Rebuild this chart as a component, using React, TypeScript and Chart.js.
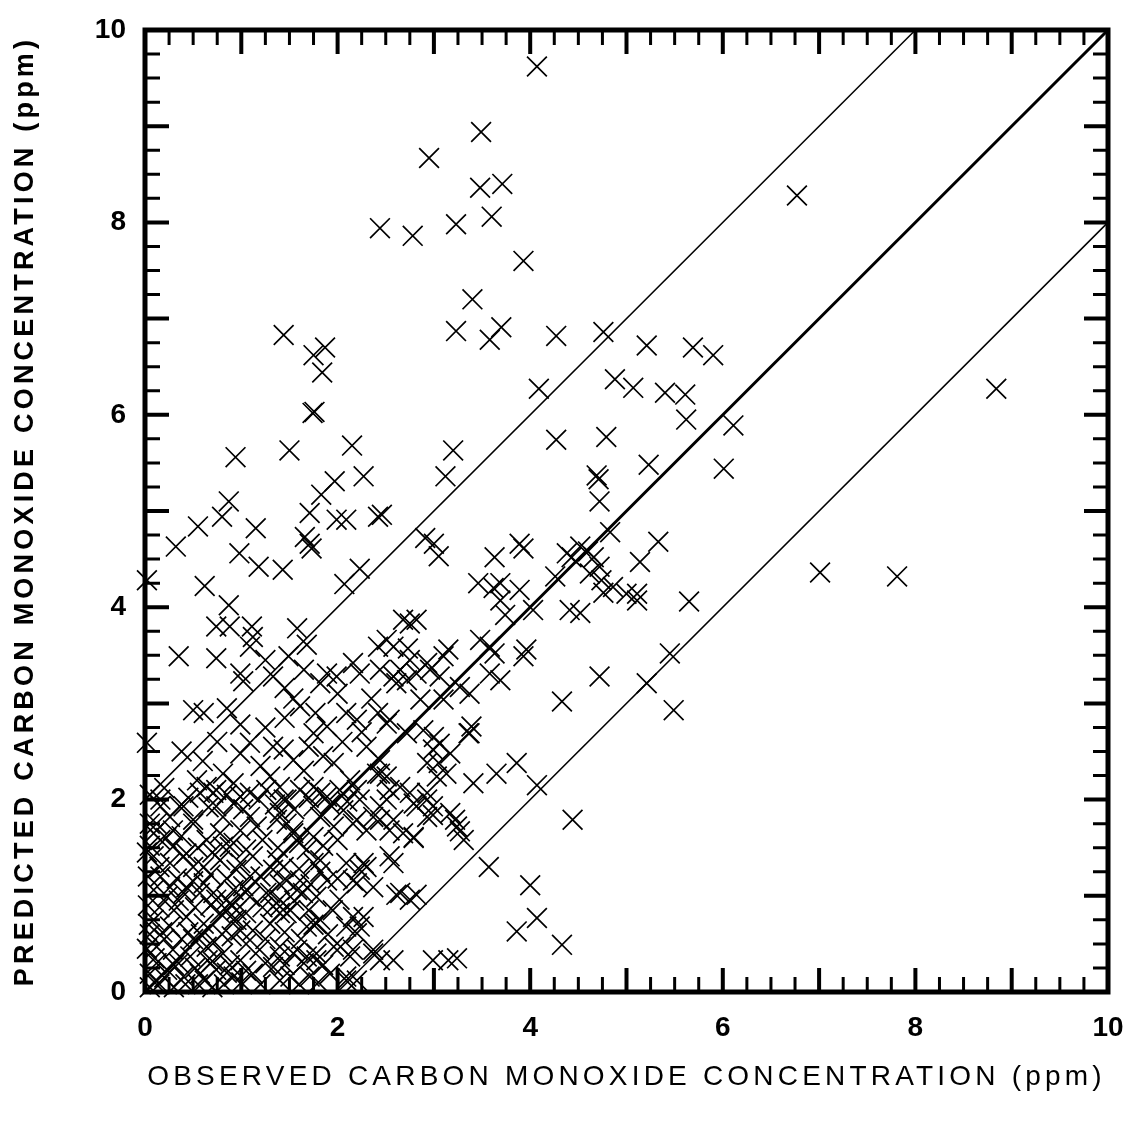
import { useEffect, useRef } from 'react';
import { Chart, registerables } from 'chart.js';

Chart.register(...registerables);

// ---------- axis setup ----------
const AXIS_MIN = 0;
const AXIS_MAX = 10;
const LABEL_STEP = 2;
const MINOR_STEP = 0.25;
const X_TITLE = 'OBSERVED CARBON MONOXIDE CONCENTRATION (ppm)';
const Y_TITLE = 'PREDICTED CARBON MONOXIDE CONCENTRATION (ppm)';

// ---------- reference lines ----------
const perfectLine: [number, number][] = [[0, 0], [10, 10]];
const upperBandLine: [number, number][] = [[0, 2], [8, 10]];
const lowerBandLine: [number, number][] = [[2, 0], [10, 8]];

// ---------- observed / predicted pairs ----------
const highPoints: [number, number][] = [
  [4.07, 9.62], [3.49, 8.94], [2.95, 8.67], [3.48, 8.36], [3.71, 8.40], [3.60, 8.06],
  [2.44, 7.94], [2.78, 7.86], [3.23, 7.98], [3.93, 7.60], [3.40, 7.20], [3.23, 6.87],
  [3.58, 6.78], [3.70, 6.91], [1.44, 6.83], [1.75, 6.62], [1.87, 6.70], [1.84, 6.44],
  [1.74, 6.02], [1.76, 6.03], [0.94, 5.56], [1.50, 5.63], [2.15, 5.68], [3.20, 5.63],
  [1.97, 5.31], [1.83, 5.17], [2.27, 5.36], [3.12, 5.36], [0.87, 5.10], [0.80, 4.94],
  [0.55, 4.84], [0.32, 4.63], [1.15, 4.82], [0.98, 4.56], [1.18, 4.42], [1.43, 4.39],
  [1.71, 4.98], [1.66, 4.73], [1.71, 4.66], [1.73, 4.61], [1.99, 4.91], [2.09, 4.91],
  [2.42, 4.94], [2.46, 4.96], [2.23, 4.40], [2.07, 4.24], [0.62, 4.22], [0.02, 4.28],
  [2.91, 4.72], [3.00, 4.66], [3.05, 4.53],
];

const rightPoints: [number, number][] = [
  [4.27, 6.82], [4.76, 6.86], [5.21, 6.72], [5.69, 6.70], [5.90, 6.62], [4.09, 6.27],
  [4.88, 6.37], [5.07, 6.28], [5.40, 6.23], [5.61, 6.21], [5.62, 5.95], [6.11, 5.89],
  [4.27, 5.74], [4.79, 5.77], [5.23, 5.48], [6.01, 5.44], [4.69, 5.37], [4.71, 5.33],
  [4.72, 5.10], [6.77, 8.28], [8.84, 6.27], [7.01, 4.36], [7.81, 4.32], [5.65, 4.06],
  [5.45, 3.52], [5.21, 3.21], [5.49, 2.93], [4.72, 3.28], [4.33, 3.02], [4.44, 1.79],
  [3.57, 1.30], [4.00, 1.11], [4.07, 0.77], [3.86, 0.63], [4.33, 0.49],
];

const bandPoints: [number, number][] = [
  [3.63, 4.52], [3.89, 4.66], [3.93, 4.61], [4.83, 4.78], [5.33, 4.68], [4.52, 4.63],
  [4.60, 4.58], [4.43, 4.52], [4.72, 4.42], [5.14, 4.47], [4.38, 4.56], [4.66, 4.52],
  [3.46, 4.25], [3.62, 4.20], [3.69, 4.25], [3.89, 4.18], [3.69, 4.07], [4.26, 4.32],
  [4.74, 4.28], [4.86, 4.21], [5.11, 4.14], [5.11, 4.07], [4.76, 4.15], [4.62, 4.35],
  [5.00, 4.14], [4.41, 3.97], [4.52, 3.94], [3.74, 3.92], [4.03, 3.97], [3.58, 3.59],
  [3.93, 3.49], [3.96, 3.56], [3.48, 3.66], [3.63, 3.52], [2.75, 3.83], [2.82, 3.87],
  [2.68, 3.87], [3.15, 3.56], [3.69, 3.24], [3.58, 3.31], [3.37, 3.10], [3.27, 3.17],
  [2.93, 3.42], [3.10, 3.49], [2.51, 3.66], [2.58, 3.59], [2.75, 3.45], [2.65, 3.35],
  [2.82, 3.31], [2.96, 3.35], [3.06, 3.28], [2.86, 3.04], [3.10, 3.04], [3.39, 2.76],
  [3.36, 2.69], [3.65, 2.27], [3.86, 2.38], [4.07, 2.15], [3.00, 2.65], [3.06, 2.58],
  [3.17, 2.48], [3.05, 2.38], [3.13, 2.27], [3.41, 2.17], [2.54, 2.83], [2.72, 2.69],
  [2.89, 2.72], [2.99, 2.52], [2.93, 2.38], [3.03, 2.24], [2.44, 2.27], [2.54, 2.10],
  [3.37, 2.69], [3.22, 1.79], [3.27, 1.67], [3.31, 1.58], [3.17, 1.86], [2.99, 1.93],
  [2.79, 1.96], [2.99, 1.84], [2.58, 1.79], [2.54, 1.68], [2.79, 1.60], [2.58, 1.34],
  [2.61, 1.01], [2.82, 1.01], [2.93, 2.07], [2.51, 2.00], [3.24, 1.72], [2.79, 1.61],
];

const clusterPoints: [number, number][] = [
  [0.74, 3.80], [0.88, 3.80], [1.11, 3.80], [1.12, 3.69], [1.09, 3.59], [0.35, 3.49],
  [0.74, 3.47], [1.58, 3.78], [1.68, 3.61], [1.49, 3.49], [2.42, 3.59], [2.73, 3.57],
  [0.99, 3.31], [1.02, 3.23], [1.89, 3.31], [1.99, 3.28], [1.82, 3.21], [2.16, 3.42],
  [2.23, 3.31], [2.44, 3.35], [2.58, 3.28], [2.61, 3.21], [2.72, 3.24], [1.33, 3.28],
  [1.45, 3.16], [0.87, 4.02], [0.50, 2.93], [0.61, 2.90], [0.38, 2.50], [0.99, 2.78],
  [1.09, 2.59], [0.99, 2.48], [1.54, 3.05], [1.61, 2.97], [1.77, 2.90], [1.89, 2.76],
  [1.75, 2.69], [2.09, 2.90], [2.20, 2.83], [2.42, 2.90], [2.51, 2.79], [1.33, 2.55],
  [1.44, 2.52], [1.54, 2.41], [1.85, 2.45], [1.96, 2.38], [2.30, 2.55], [2.44, 2.41],
  [2.51, 2.24], [0.02, 2.59], [0.54, 2.20], [0.64, 2.13], [0.71, 2.07], [0.81, 2.27],
  [0.92, 2.17], [0.99, 2.03], [1.30, 2.24], [1.40, 2.13], [1.47, 2.00], [1.75, 2.13],
  [1.89, 2.03], [2.13, 2.20], [2.20, 2.10], [2.41, 2.27], [2.65, 2.13], [2.75, 2.07],
  [2.93, 2.00], [0.16, 1.93], [0.26, 1.82], [0.40, 1.93], [0.50, 1.79], [0.74, 1.93],
  [0.81, 1.82], [0.78, 1.65], [0.88, 1.51], [1.09, 1.82], [1.16, 1.72], [1.40, 1.86],
  [1.47, 1.75], [1.54, 1.65], [1.75, 1.93], [1.82, 1.82], [2.06, 1.89], [2.20, 1.79],
  [2.30, 1.68], [2.44, 1.79], [2.68, 1.65], [2.82, 1.93], [2.93, 1.82], [1.68, 1.48],
  [1.82, 1.37], [2.27, 1.34], [2.54, 1.41], [1.37, 1.37], [1.44, 1.30], [0.99, 1.34],
  [1.09, 1.20], [0.09, 1.65], [0.16, 1.58], [0.29, 1.51], [0.40, 1.41], [0.50, 1.30],
  [0.16, 1.20], [0.26, 1.09], [0.40, 1.03], [0.61, 1.13], [0.71, 1.03], [0.85, 0.96],
  [0.95, 0.85], [1.30, 1.03], [1.40, 0.96], [1.51, 0.85], [1.78, 0.71], [2.16, 0.78],
  [2.23, 0.68], [2.65, 1.03], [2.75, 0.96], [2.30, 1.30], [2.16, 1.16], [1.75, 1.34],
  [1.82, 1.25], [1.61, 1.16], [1.64, 1.03], [2.27, 0.78], [1.75, 0.70], [1.33, 0.89],
  [1.40, 0.82], [0.92, 0.75], [0.99, 0.64], [2.58, 0.33], [2.99, 0.33], [3.24, 0.35],
  [2.37, 0.44], [2.44, 0.33], [2.03, 0.47], [2.13, 0.37], [1.68, 0.37], [1.78, 0.33],
  [1.40, 0.47], [1.54, 0.40], [2.09, 0.16], [2.20, 0.12], [3.15, 0.33],
  [1.20, 2.35], [1.65, 2.30], [2.05, 2.60], [2.25, 2.70], [1.70, 2.55], [1.25, 2.75],
  [1.45, 2.85], [2.35, 3.05], [2.00, 3.10], [1.65, 3.35], [1.25, 3.45], [0.60, 2.40],
  [0.75, 2.60], [0.85, 2.95],
];

const densePoints: [number, number][] = [
  [0.16, 2.00], [0.36, 1.93], [0.57, 2.07], [0.74, 2.10], [0.92, 1.96], [1.09, 2.07],
  [1.26, 2.10], [1.44, 2.00], [1.61, 2.10], [1.82, 2.07], [2.02, 2.10], [2.23, 2.00],
  [2.44, 1.93], [0.12, 1.75], [0.29, 1.68], [0.50, 1.75], [0.64, 1.58], [0.81, 1.51],
  [0.99, 1.68], [1.37, 1.79], [1.54, 1.68], [1.75, 1.61], [1.96, 1.72], [2.16, 1.75],
  [2.37, 1.82], [0.09, 1.41], [0.26, 1.34], [0.43, 1.44], [0.61, 1.30], [0.78, 1.37],
  [0.95, 1.27], [1.12, 1.41], [1.33, 1.27], [1.47, 1.16], [1.89, 1.16], [2.09, 1.34],
  [2.23, 1.27], [2.37, 1.09], [0.09, 1.06], [0.23, 0.99], [0.43, 1.09], [0.57, 1.03],
  [0.74, 0.96], [0.92, 1.06], [1.09, 0.99], [1.26, 1.03], [1.40, 0.89], [1.58, 1.06],
  [1.78, 0.99], [2.02, 0.96], [2.20, 1.13], [0.09, 0.75], [0.26, 0.68], [0.43, 0.78],
  [0.61, 0.71], [0.78, 0.82], [0.95, 0.75], [1.12, 0.64], [1.30, 0.71], [1.47, 0.82],
  [1.68, 0.68], [1.82, 0.75], [2.09, 0.68], [2.20, 0.61], [0.12, 0.47], [0.29, 0.44],
  [0.47, 0.37], [0.64, 0.47], [0.81, 0.40], [0.99, 0.33], [1.19, 0.44], [1.40, 0.37],
  [1.58, 0.44], [1.78, 0.40], [1.96, 0.47], [2.16, 0.44], [2.37, 0.40], [0.05, 0.19],
  [0.23, 0.23], [0.40, 0.16], [0.57, 0.19], [0.74, 0.23], [0.92, 0.16], [1.12, 0.19],
  [1.33, 0.26], [1.51, 0.16], [1.71, 0.16], [1.92, 0.19], [2.09, 0.12], [0.05, 0.05],
  [0.15, 0.08], [0.30, 0.05], [0.10, 0.35], [0.20, 0.55], [0.35, 0.30], [0.50, 0.55],
  [0.55, 0.08], [0.70, 0.05], [0.65, 0.33], [0.30, 0.85], [0.03, 0.90], [0.05, 0.60],
  [0.45, 0.62], [0.20, 0.15], [0.80, 0.60], [0.85, 0.20], [0.05, 2.05], [0.05, 1.75],
  [0.20, 2.12], [0.45, 2.02], [0.66, 1.92], [0.85, 2.05], [1.02, 1.90], [1.18, 2.00],
  [1.35, 1.95], [1.55, 1.90], [1.70, 2.02], [1.92, 1.95], [2.10, 1.98], [0.05, 1.52],
  [0.22, 1.60], [0.38, 1.62], [0.55, 1.50], [0.70, 1.45], [0.92, 1.55], [1.05, 1.48],
  [1.22, 1.58], [1.38, 1.50], [1.60, 1.55], [1.85, 1.52], [2.00, 1.58], [0.15, 1.30],
  [0.33, 1.18], [0.50, 1.15], [0.68, 1.22], [0.85, 1.18], [1.02, 1.10], [1.20, 1.20],
  [1.40, 1.12], [1.60, 1.28], [1.72, 1.12], [2.00, 1.18], [0.15, 0.88], [0.35, 0.95],
  [0.52, 0.88], [0.68, 0.90], [0.88, 0.92], [1.05, 0.82], [1.22, 0.88], [1.55, 0.95],
  [1.70, 0.85], [1.95, 0.85], [0.18, 0.62], [0.38, 0.55], [0.58, 0.60], [0.72, 0.52],
  [0.90, 0.58], [1.05, 0.50], [1.25, 0.55], [1.45, 0.62], [1.62, 0.55], [1.90, 0.60],
  [0.12, 0.30], [0.30, 0.28], [0.52, 0.25], [0.70, 0.32], [0.88, 0.28], [1.05, 0.22],
  [1.25, 0.30], [1.45, 0.28], [1.65, 0.30], [1.85, 0.28], [0.10, 0.10], [0.42, 0.08],
  [0.62, 0.12], [0.82, 0.08], [1.00, 0.10], [1.20, 0.08], [1.40, 0.12], [1.60, 0.08],
  [1.80, 0.10], [0.02, 1.45], [0.03, 1.20], [0.02, 0.45], [0.04, 0.70],
];

const TITLE_SPACING = '4.2px';

const toXY = (pts: [number, number][]) => pts.map(([x, y]) => ({ x, y }));

const frameAndTicks = {
  id: 'frameAndTicks',
  beforeDraw(chart: any) {
    chart.ctx.letterSpacing = TITLE_SPACING;
  },
  beforeDatasetsDraw(chart: any) {
    chart.ctx.letterSpacing = '0px';
  },
  afterDraw(chart: any) {
    const { ctx, chartArea: a, scales } = chart;
    const xs = scales.x;
    const ys = scales.y;
    ctx.save();
    ctx.strokeStyle = '#000';
    ctx.lineCap = 'butt';
    const n = Math.round((AXIS_MAX - AXIS_MIN) / MINOR_STEP);
    for (let i = 0; i <= n; i++) {
      const v = AXIS_MIN + i * MINOR_STEP;
      const major = Math.abs(v - Math.round(v)) < 1e-9;
      const len = major ? 24 : 15;
      ctx.lineWidth = major ? 4 : 3;
      const px = xs.getPixelForValue(v);
      const py = ys.getPixelForValue(v);
      ctx.beginPath();
      ctx.moveTo(px, a.bottom);
      ctx.lineTo(px, a.bottom - len);
      ctx.moveTo(px, a.top);
      ctx.lineTo(px, a.top + len);
      ctx.moveTo(a.left, py);
      ctx.lineTo(a.left + len, py);
      ctx.moveTo(a.right, py);
      ctx.lineTo(a.right - len, py);
      ctx.stroke();
    }
    ctx.lineWidth = 5;
    ctx.strokeRect(a.left, a.top, a.right - a.left, a.bottom - a.top);
    ctx.restore();
  },
};

export default function App() {
  const ref = useRef<HTMLCanvasElement>(null);

  useEffect(() => {
    if (!ref.current) return;
    const allPoints = [...highPoints, ...rightPoints, ...bandPoints, ...clusterPoints, ...densePoints];
    const lineStyle = (w: number) => ({
      showLine: true,
      borderColor: '#000',
      borderWidth: w,
      pointRadius: 0,
      fill: false,
      clip: false as const,
    });
    const tickFont = { family: 'Liberation Sans', size: 28, weight: 'bold' as const };
    const chart = new Chart(ref.current, {
      type: 'scatter',
      data: {
        datasets: [
          {
            data: toXY(allPoints),
            pointStyle: 'crossRot',
            pointRadius: 14,
            pointHoverRadius: 14,
            pointBorderWidth: 1.7,
            pointBorderColor: '#000',
            pointBackgroundColor: 'rgba(0,0,0,0)',
            clip: false,
          } as any,
          { data: toXY(perfectLine), ...lineStyle(3) } as any,
          { data: toXY(upperBandLine), ...lineStyle(1.5) } as any,
          { data: toXY(lowerBandLine), ...lineStyle(1.5) } as any,
        ],
      },
      options: {
        animation: false,
        responsive: false,
        events: [],
        layout: { autoPadding: false, padding: { left: 0, top: 30, right: 28, bottom: 0 } },
        plugins: { legend: { display: false }, tooltip: { enabled: false } },
        scales: {
          x: {
            type: 'linear',
            position: 'bottom',
            min: AXIS_MIN,
            max: AXIS_MAX,
            afterFit: (s: any) => {
              s.height = 132;
              s.paddingLeft = 0;
              s.paddingRight = 0;
            },
            grid: { display: false, drawTicks: false },
            border: { display: false },
            ticks: { stepSize: LABEL_STEP, padding: 19, color: '#000', font: tickFont, z: 1, maxRotation: 0, autoSkip: false },
            title: {
              display: true,
              text: X_TITLE,
              color: '#000',
              font: { family: 'Liberation Sans', size: 28, weight: 'normal' },
              padding: { top: 0, bottom: 30 },
            },
          },
          y: {
            type: 'linear',
            position: 'left',
            min: AXIS_MIN,
            max: AXIS_MAX,
            afterFit: (s: any) => {
              s.width = 145;
              s.paddingTop = 0;
              s.paddingBottom = 0;
            },
            grid: { display: false, drawTicks: false },
            border: { display: false },
            ticks: { stepSize: LABEL_STEP, padding: 19, color: '#000', font: tickFont, z: 1, autoSkip: false },
            title: {
              display: true,
              text: Y_TITLE,
              color: '#000',
              font: { family: 'Liberation Sans', size: 27, weight: 'bold' },
              padding: { top: 9, bottom: 0 },
            },
          },
        },
      } as any,
      plugins: [frameAndTicks],
    });
    return () => chart.destroy();
  }, []);

  return (
    <div style={{ position: 'absolute', left: 0, top: 0, width: 1136, height: 1124, background: '#fff' }}>
      <canvas ref={ref} width={1136} height={1124} style={{ display: 'block' }} />
    </div>
  );
}
